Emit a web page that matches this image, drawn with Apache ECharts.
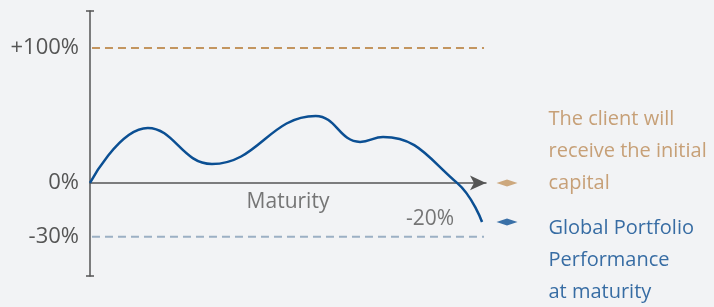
<!DOCTYPE html>
<html>
<head>
<meta charset="utf-8">
<script src="https://cdn.jsdelivr.net/npm/echarts@6/dist/echarts.min.js"></script>
<style>
  html, body { margin: 0; padding: 0; background: #f2f3f5; }
  #chart { width: 714px; height: 307px; }
</style>
</head>
<body>
<div id="chart"></div>
<script>
// schematic performance path (x: time to maturity, y: chart units, 0 = initial capital)
var pathX = [0, 14.6, 30.8, 57, 68.2, 74, 92.7, 99];
var pathY = [0, 40.7, 14, 49.6, 30.4, 34, 0, -29];

// reference levels on the y axis
var levelValues = [100, 0, -40];
var levelLabels = ['+100%', '0%', '-30%'];

var axisName = 'Maturity';
var endLabel = '-20%';
var capitalText = 'The client will\nreceive the initial\ncapital';
var portfolioText = 'Global Portfolio\nPerformance\nat maturity';

var grey = '#555555';
var tan = '#c3955f';
var tanText = '#bb8b57';
var blue = '#0b4f93';
var blueText = '#084a8e';
var lightBlue = '#9cb0c4';
var font = '"Open Sans", "Noto Sans", sans-serif';

var pathData = pathX.map(function (x, i) { return [x, pathY[i]]; });
var endPoint = pathData[pathData.length - 1];

var myChart = echarts.init(document.getElementById('chart'));
var option = {
    backgroundColor: '#f2f3f5',
    animation: false,
    grid: { left: 90, top: 11, width: 396, height: 265, outerBoundsMode: 'none' },
    xAxis: {
        type: 'value',
        min: 0,
        max: 100,
        axisLine: {
            onZero: true,
            symbol: ['none', 'arrow'],
            symbolSize: [11, 16],
            lineStyle: { color: grey, width: 1.5 }
        },
        axisTick: { show: false },
        axisLabel: { show: false },
        splitLine: { show: false }
    },
    yAxis: {
        type: 'value',
        min: -69,
        max: 127.4,
        axisLine: {
            show: true,
            symbol: ['rect', 'rect'],
            symbolSize: [8, 1.5],
            lineStyle: { color: grey, width: 1.5 }
        },
        axisTick: { show: false },
        splitLine: { show: false },
        axisLabel: {
            customValues: levelValues,
            margin: 11,
            color: grey,
            fontSize: 22,
            fontFamily: font,
            formatter: function (v) {
                var i = levelValues.indexOf(v);
                return i >= 0 ? levelLabels[i] : '';
            }
        }
    },
    series: [
        {
            type: 'line',
            data: [[0.5, levelValues[0]], [99.5, levelValues[0]]],
            symbol: 'none',
            lineStyle: { color: tan, width: 2, type: [8, 5] }
        },
        {
            type: 'line',
            data: [[0.5, levelValues[2]], [99.5, levelValues[2]]],
            symbol: 'none',
            lineStyle: { color: lightBlue, width: 2, type: [8, 5] }
        },
        {
            type: 'line',
            data: pathData,
            smooth: 0.45,
            symbol: 'none',
            lineStyle: { color: blue, width: 2.5 }
        },
        {
            // axis name sitting under the zero line
            type: 'scatter',
            data: [[50, 0]],
            symbolSize: 0,
            label: {
                show: true,
                position: 'bottom',
                distance: 9,
                formatter: axisName,
                color: grey,
                fontSize: 21,
                fontFamily: font
            }
        },
        {
            type: 'scatter',
            data: [endPoint],
            symbolSize: 0,
            label: {
                show: true,
                position: 'left',
                distance: 28,
                offset: [0, -3],
                formatter: endLabel,
                color: grey,
                fontSize: 21,
                fontFamily: font
            }
        },
        {
            type: 'scatter',
            clip: false,
            data: [[105.3, 0]],
            symbol: 'diamond',
            symbolSize: [21, 7],
            itemStyle: { color: tan },
            label: {
                show: true,
                position: 'right',
                distance: 31,
                offset: [0, -32],
                formatter: capitalText,
                color: tanText,
                fontSize: 20,
                lineHeight: 32,
                fontFamily: font
            }
        },
        {
            type: 'scatter',
            clip: false,
            data: [[105.3, endPoint[1]]],
            symbol: 'diamond',
            symbolSize: [21, 7],
            itemStyle: { color: blue },
            label: {
                show: true,
                position: 'right',
                distance: 31,
                offset: [0, 38.5],
                formatter: portfolioText,
                color: blueText,
                fontSize: 20,
                lineHeight: 32,
                fontFamily: font
            }
        }
    ]
};
myChart.setOption(option);
</script>
</body>
</html>
